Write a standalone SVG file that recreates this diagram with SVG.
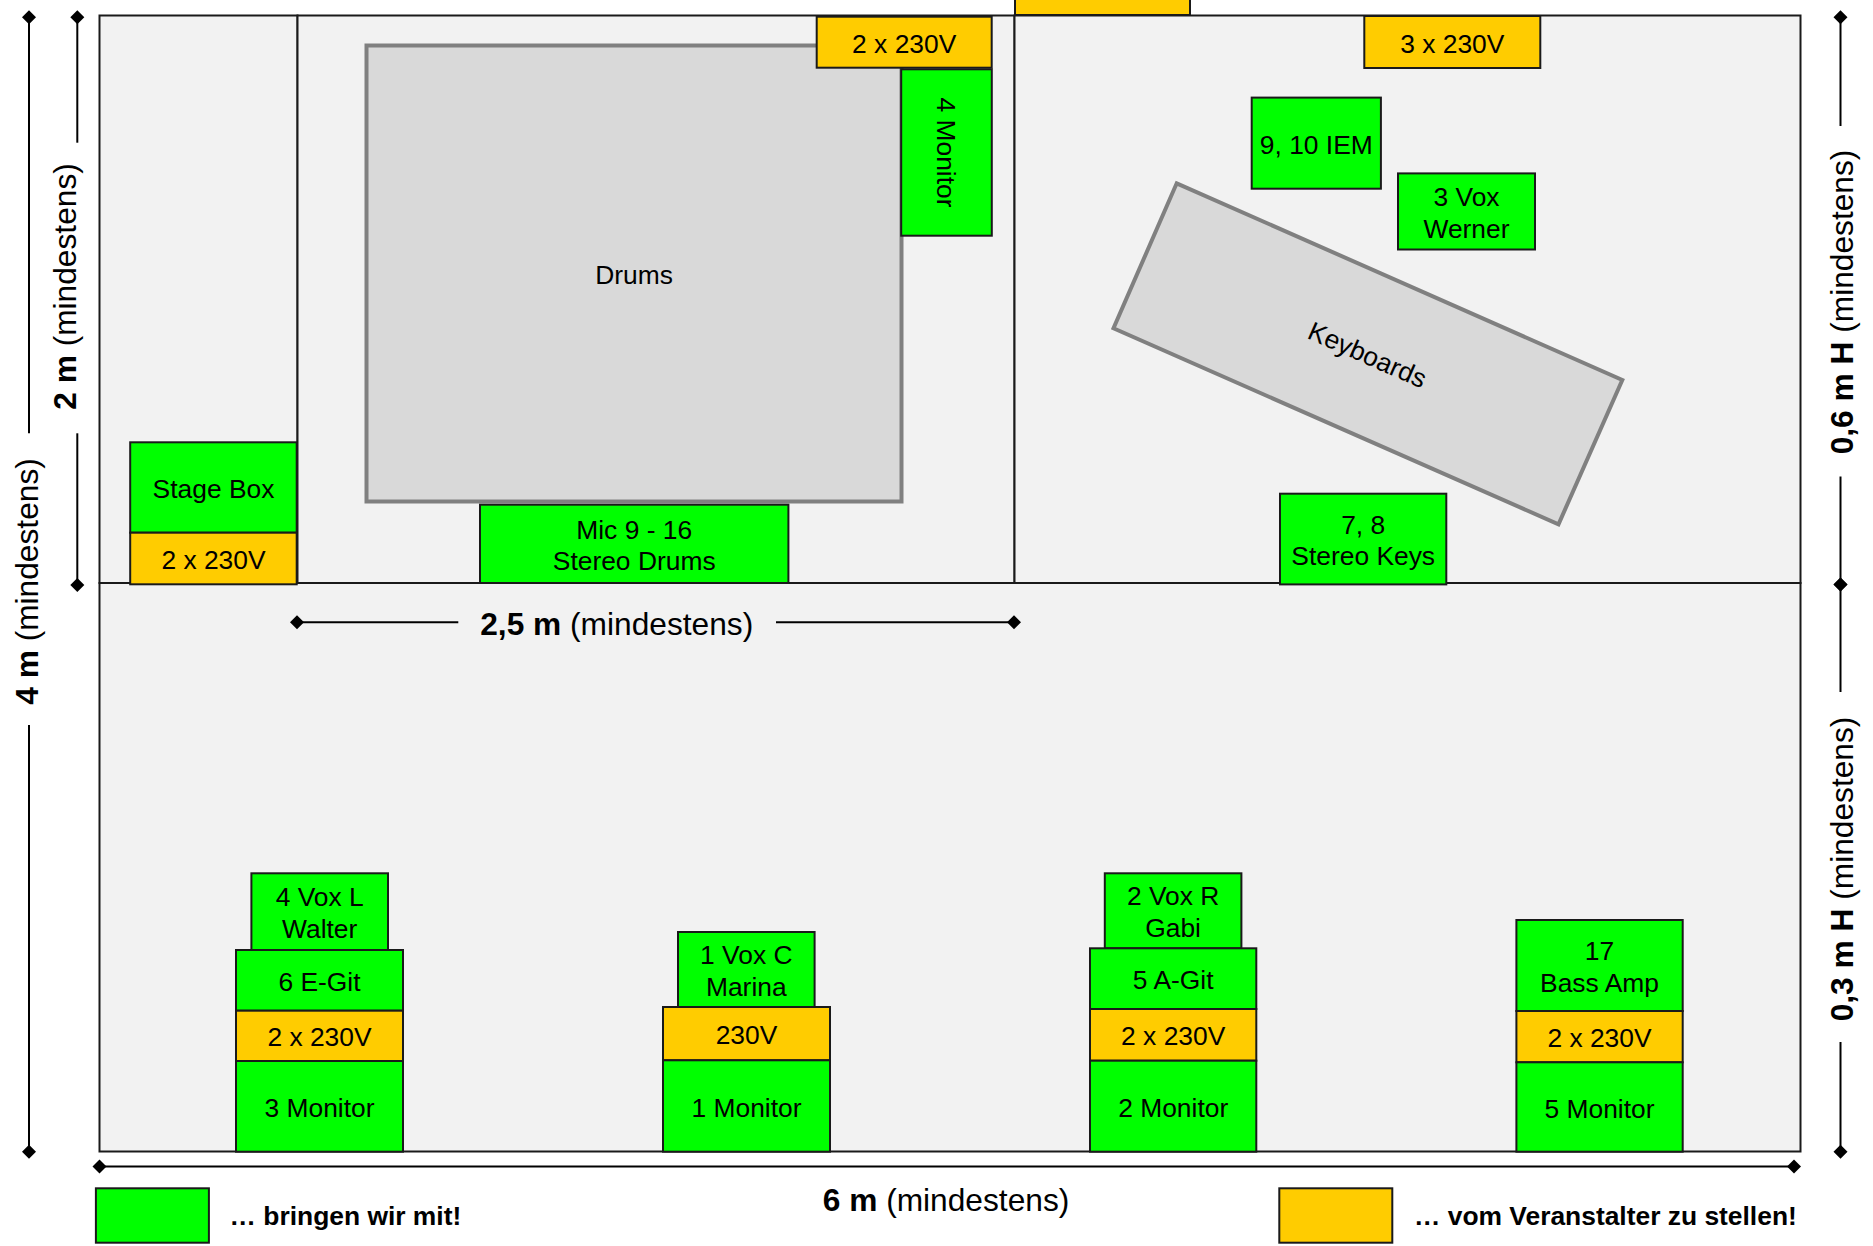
<svg xmlns="http://www.w3.org/2000/svg" width="1873" height="1246" viewBox="0 0 1873 1246">
<style>
  text { font-family: "Liberation Sans", Arial, sans-serif; fill: #000; }
  .lbl { font-size: 26.4px; text-anchor: middle; }
  .dim { font-size: 31.7px; text-anchor: middle; }
  .b { font-weight: bold; }
  .leg { font-size: 26.4px; font-weight: bold; }
  .area { fill: #f2f2f2; stroke: #1a1a1a; stroke-width: 2; }
  .g { fill: #00ff00; stroke: #1a1a1a; stroke-width: 2; }
  .y { fill: #ffcc00; stroke: #1a1a1a; stroke-width: 2; }
  .inst { fill: #d9d9d9; stroke: #808080; stroke-width: 4; }
  .dl { stroke: #000; stroke-width: 2; fill: none; }
</style>
<defs>
  <marker id="dia" viewBox="-7.5 -7.5 15 15" markerUnits="userSpaceOnUse" markerWidth="15" markerHeight="15" refX="0" refY="0" orient="auto">
    <path d="M0,-7 L7,0 L0,7 L-7,0 Z" fill="#000"/>
  </marker>
</defs>
<rect width="1873" height="1246" fill="#ffffff"/>

<!-- stage areas -->
<g id="stage">
  <rect class="area" x="99.5" y="583" width="1701" height="568.5"/>
  <rect class="area" x="99.5" y="15.5" width="198" height="567.5"/>
  <rect class="area" x="297.5" y="15.5" width="717" height="567.5"/>
  <rect class="area" x="1014.5" y="15.5" width="786" height="567.5"/>
</g>

<g id="drums">
  <rect class="inst" x="366.5" y="45.5" width="535" height="456"/>
  <text class="lbl" x="634" y="284.2">Drums</text>
</g>

<g id="keyboards">
  <polygon class="inst" points="1176.7,183.3 1622.3,380 1558.5,524.3 1113.5,328.3"/>
  <text class="lbl" x="1367.8" y="364" transform="rotate(23.8 1367.8 354)">Keyboards</text>
</g>

<g id="power-top-cut">
  <rect class="y" x="1015" y="-20" width="175" height="35"/>
</g>

<g id="power-drums">
  <rect class="y" x="816.7" y="16.7" width="175" height="51"/>
  <text class="lbl" x="904.2" y="52.7">2 x 230V</text>
</g>

<g id="monitor-4">
  <rect class="g" x="901.2" y="69.3" width="90.6" height="166.4"/>
  <text class="lbl" x="946.5" y="161.8" transform="rotate(90 946.5 152.5)">4 Monitor</text>
</g>

<g id="power-keys">
  <rect class="y" x="1364.3" y="16" width="176" height="52"/>
  <text class="lbl" x="1452.3" y="52.5">3 x 230V</text>
</g>

<g id="iem">
  <rect class="g" x="1251.7" y="97.6" width="129.2" height="91.1"/>
  <text class="lbl" x="1316.3" y="153.5">9, 10 IEM</text>
</g>

<g id="vox-werner">
  <rect class="g" x="1398" y="173.4" width="137" height="76.1"/>
  <text class="lbl" x="1466.5" y="206">3 Vox</text>
  <text class="lbl" x="1466.5" y="237.7">Werner</text>
</g>

<g id="stereo-keys">
  <rect class="g" x="1280" y="493.7" width="166.3" height="90.7"/>
  <text class="lbl" x="1363.2" y="533.5">7, 8</text>
  <text class="lbl" x="1363.2" y="565.2">Stereo Keys</text>
</g>

<g id="stage-box">
  <rect class="g" x="130.2" y="442.3" width="166.5" height="90.4"/>
  <text class="lbl" x="213.5" y="498">Stage Box</text>
</g>

<g id="power-stagebox">
  <rect class="y" x="130.2" y="532.7" width="166.5" height="51.6"/>
  <text class="lbl" x="213.5" y="569">2 x 230V</text>
</g>

<g id="mic-drums">
  <rect class="g" x="480" y="504.7" width="308.4" height="78.3"/>
  <text class="lbl" x="634.2" y="538.5">Mic 9 - 16</text>
  <text class="lbl" x="634.2" y="570.2">Stereo Drums</text>
</g>

<!-- group 1 -->
<g id="vox-walter">
  <rect class="g" x="251.4" y="873.3" width="136.6" height="76.7"/>
  <text class="lbl" x="319.7" y="906.3">4 Vox L</text>
  <text class="lbl" x="319.7" y="938">Walter</text>
</g>
<g id="egit">
  <rect class="g" x="236" y="950" width="167" height="60.7"/>
  <text class="lbl" x="319.5" y="990.8">6 E-Git</text>
</g>
<g id="power-egit">
  <rect class="y" x="236" y="1010.7" width="167" height="50.3"/>
  <text class="lbl" x="319.5" y="1046.4">2 x 230V</text>
</g>
<g id="monitor-3">
  <rect class="g" x="236" y="1061" width="167" height="90.7"/>
  <text class="lbl" x="319.5" y="1116.9">3 Monitor</text>
</g>

<!-- group 2 -->
<g id="vox-marina">
  <rect class="g" x="678" y="932" width="136.6" height="75"/>
  <text class="lbl" x="746.3" y="964.1">1 Vox C</text>
  <text class="lbl" x="746.3" y="995.8">Marina</text>
</g>
<g id="power-marina">
  <rect class="y" x="663" y="1007" width="167" height="53.3"/>
  <text class="lbl" x="746.5" y="1044.2">230V</text>
</g>
<g id="monitor-1">
  <rect class="g" x="663" y="1060.3" width="167" height="91.4"/>
  <text class="lbl" x="746.5" y="1116.5">1 Monitor</text>
</g>

<!-- group 3 -->
<g id="vox-gabi">
  <rect class="g" x="1104.8" y="873.3" width="136.6" height="75"/>
  <text class="lbl" x="1173.1" y="905.4">2 Vox R</text>
  <text class="lbl" x="1173.1" y="937.1">Gabi</text>
</g>
<g id="agit">
  <rect class="g" x="1090" y="948.3" width="166.3" height="60.7"/>
  <text class="lbl" x="1173.2" y="989.2">5 A-Git</text>
</g>
<g id="power-agit">
  <rect class="y" x="1090" y="1009" width="166.3" height="51.7"/>
  <text class="lbl" x="1173.2" y="1045.4">2 x 230V</text>
</g>
<g id="monitor-2">
  <rect class="g" x="1090" y="1060.7" width="166.3" height="91"/>
  <text class="lbl" x="1173.2" y="1116.7">2 Monitor</text>
</g>

<!-- group 4 -->
<g id="bass-amp">
  <rect class="g" x="1516.4" y="920" width="166.3" height="91"/>
  <text class="lbl" x="1599.5" y="960.1">17</text>
  <text class="lbl" x="1599.5" y="991.8">Bass Amp</text>
</g>
<g id="power-bass">
  <rect class="y" x="1516.4" y="1011" width="166.3" height="51.3"/>
  <text class="lbl" x="1599.5" y="1047.2">2 x 230V</text>
</g>
<g id="monitor-5">
  <rect class="g" x="1516.4" y="1062.3" width="166.3" height="89.4"/>
  <text class="lbl" x="1599.5" y="1117.5">5 Monitor</text>
</g>

<!-- dimension lines -->
<g id="connectors">
  <line class="dl" x1="29" y1="17.3" x2="29" y2="433.3" marker-start="url(#dia)"/>
  <line class="dl" x1="29" y1="725" x2="29" y2="1151.7" marker-end="url(#dia)"/>
  <line class="dl" x1="77.3" y1="17.3" x2="77.3" y2="142.7" marker-start="url(#dia)"/>
  <line class="dl" x1="77.3" y1="433.3" x2="77.3" y2="585" marker-end="url(#dia)"/>
  <line class="dl" x1="1840.5" y1="17.2" x2="1840.5" y2="126" marker-start="url(#dia)"/>
  <line class="dl" x1="1840.5" y1="476.5" x2="1840.5" y2="584.4" marker-end="url(#dia)"/>
  <line class="dl" x1="1840.5" y1="584.4" x2="1840.5" y2="692" marker-start="url(#dia)"/>
  <line class="dl" x1="1840.5" y1="1042" x2="1840.5" y2="1151.7" marker-end="url(#dia)"/>
  <line class="dl" x1="297" y1="622.3" x2="458.3" y2="622.3" marker-start="url(#dia)"/>
  <line class="dl" x1="776" y1="622.3" x2="1014" y2="622.3" marker-end="url(#dia)"/>
  <line class="dl" x1="99.5" y1="1166.5" x2="1794" y2="1166.5" stroke-width="3" marker-start="url(#dia)" marker-end="url(#dia)"/>
</g>

<g id="dimension-labels">
  <text class="dim" x="64.5" y="297.8" transform="rotate(-90 64.5 286.5)"><tspan class="b">2 m</tspan> (mindestens)</text>
  <text class="dim" x="26.5" y="592.8" transform="rotate(-90 26.5 581.5)"><tspan class="b">4 m</tspan> (mindestens)</text>
  <text class="dim" x="1841.5" y="313.3" transform="rotate(-90 1841.5 302)"><tspan class="b">0,6 m H</tspan> (mindestens)</text>
  <text class="dim" x="1842" y="880.3" transform="rotate(-90 1842 869)"><tspan class="b">0,3 m H</tspan> (mindestens)</text>
  <text class="dim" x="616.7" y="635"><tspan class="b">2,5 m</tspan> (mindestens)</text>
  <text class="dim" x="946" y="1211"><tspan class="b">6 m</tspan> (mindestens)</text>
</g>

<g id="legend">
  <rect class="g" x="95.9" y="1188.3" width="113" height="54.4"/>
  <text class="leg" x="229.6" y="1225">… bringen wir mit!</text>
  <rect class="y" x="1279.3" y="1188.3" width="113" height="54.4"/>
  <text class="leg" x="1414" y="1225">… vom Veranstalter zu stellen!</text>
</g>
</svg>
